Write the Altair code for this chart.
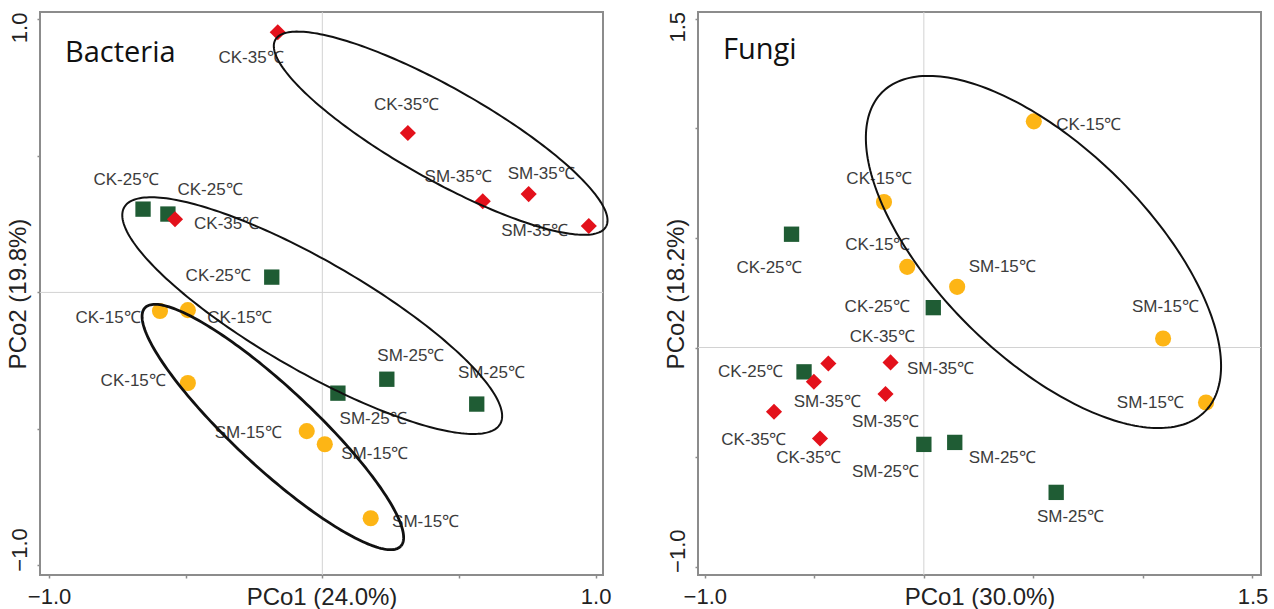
import altair as alt
import numpy as np
import pandas as pd

# ---------------- data ----------------
groups = ["15", "25", "35"]
grp_colors = ["#FDB515", "#1F5C34", "#E3111B"]
grp_shapes = ["circle", "square", "diamond"]
grp_sizes = [260, 235, 260]

# Bacteria (left panel)
bac_grp = ["35"] * 6 + ["25"] * 6 + ["15"] * 6
bac_x = [-0.163, 0.313, 0.587, 0.755, 0.975, -0.539,
         -0.656, -0.565, -0.185, 0.057, 0.236, 0.565,
         -0.594, -0.492, -0.492, -0.057, 0.009, 0.177]
bac_y = [0.953, 0.584, 0.334, 0.360, 0.243, 0.268,
         0.305, 0.287, 0.056, -0.369, -0.318, -0.409,
         -0.068, -0.065, -0.332, -0.508, -0.556, -0.827]
bac_text = ["CK-35℃", "CK-35℃", "SM-35℃", "SM-35℃", "SM-35℃", "CK-35℃",
            "CK-25℃", "CK-25℃", "CK-25℃", "SM-25℃", "SM-25℃", "SM-25℃",
            "CK-15℃", "CK-15℃", "CK-15℃", "SM-15℃", "SM-15℃", "SM-15℃"]
bac_lab_x = [-0.261, 0.308, 0.497, 0.801, 0.777, -0.350,
             -0.718, -0.411, -0.381, 0.186, 0.324, 0.619,
             -0.784, -0.302, -0.692, -0.271, 0.192, 0.378]
bac_lab_y = [0.858, 0.685, 0.422, 0.432, 0.225, 0.251,
             0.410, 0.374, 0.059, -0.463, -0.233, -0.295,
             -0.094, -0.093, -0.326, -0.514, -0.591, -0.841]
# ellipses: centre, semi-axes, angle (deg), line width
bac_ell_cx = [0.433, -0.037, -0.181]
bac_ell_cy = [0.583, -0.085, -0.493]
bac_ell_a = [0.695, 0.794, 0.640]
bac_ell_b = [0.168, 0.201, 0.146]
bac_ell_ang = [-29.5, -30.0, -43.0]
bac_ell_w = [2.0, 2.0, 2.8]

# Fungi (right panel)
fun_grp = ["35"] * 6 + ["25"] * 6 + ["15"] * 6
fun_x = [-0.436, -0.152, -0.502, -0.175, -0.684, -0.474,
         -0.604, 0.043, -0.547, 0.000, 0.141, 0.604,
         0.502, -0.182, -0.076, 0.152, 1.092, 1.288]
fun_y = [-0.073, -0.068, -0.156, -0.212, -0.293, -0.415,
         0.517, 0.182, -0.111, -0.442, -0.433, -0.661,
         1.032, 0.664, 0.368, 0.277, 0.041, -0.251]
fun_text = ["CK-35℃", "SM-35℃", "SM-35℃", "SM-35℃", "CK-35℃", "CK-35℃",
            "CK-25℃", "CK-25℃", "CK-25℃", "SM-25℃", "SM-25℃", "SM-25℃",
            "CK-15℃", "CK-15℃", "CK-15℃", "SM-15℃", "SM-15℃", "SM-15℃"]
fun_lab_x = [-0.190, 0.076, -0.441, -0.175, -0.776, -0.525,
             -0.707, -0.213, -0.791, -0.175, 0.358, 0.669,
             0.753, -0.205, -0.210, 0.358, 1.103, 1.034]
fun_lab_y = [0.049, -0.100, -0.248, -0.339, -0.422, -0.503,
             0.365, 0.186, -0.111, -0.567, -0.506, -0.772,
             1.017, 0.771, 0.467, 0.368, 0.186, -0.255]
fun_ell_cx = [0.546]
fun_ell_cy = [0.436]
fun_ell_a = [1.036]
fun_ell_b = [0.479]
fun_ell_ang = [-44.6]
fun_ell_w = [2.0]

W = 563
H = 563
FONT = "Liberation Sans"


def ellipse_frame(cx, cy, a, b, ang, w):
    rows = []
    t = np.linspace(0, 2 * np.pi, 241)
    for k in range(len(cx)):
        th = np.deg2rad(ang[k])
        ex = cx[k] + a[k] * np.cos(t) * np.cos(th) - b[k] * np.sin(t) * np.sin(th)
        ey = cy[k] + a[k] * np.cos(t) * np.sin(th) + b[k] * np.sin(t) * np.cos(th)
        for i in range(len(t)):
            rows.append({"x": ex[i], "y": ey[i], "e": k, "i": i, "w": w[k]})
    return pd.DataFrame(rows)


def panel(name, px, py, grp, text, lx, ly, ell, xdom, ydom, xticks, yticks, xtitle, ytitle, name_y):
    xlo, xhi = xticks[0], xticks[-1]
    ylo, yhi = yticks[0], yticks[-1]
    xscale = alt.Scale(domain=xdom, nice=False, zero=False)
    yscale = alt.Scale(domain=ydom, nice=False, zero=False)
    xaxis = alt.Axis(
        values=xticks,
        labelExpr=f"(datum.value == {xlo} || datum.value == {xhi}) ? format(datum.value, '.1f') : ''",
        labelFlush=True, labelFlushOffset=5, labelPadding=8,
        title=xtitle, titleY=10, titleBaseline="top",
    )
    yaxis = alt.Axis(
        values=yticks,
        labelExpr=f"(datum.value == {ylo} || datum.value == {yhi}) ? format(datum.value, '.1f') : ''",
        labelAngle=-90, labelAlign="center", labelBaseline="bottom", labelPadding=6,
        labelOffset={"condition": {"test": "datum.value > 0", "value": 8}, "value": -16},
        title=ytitle, titleX=-10, titleY=H / 2, titleAngle=-90,
        titleBaseline="bottom", titleAlign="center",
    )
    pts = pd.DataFrame({"x": px, "y": py, "g": grp})
    labs = pd.DataFrame({"x": lx, "y": ly, "t": text})
    zero = pd.DataFrame({"z": [0.0]})

    vline = alt.Chart(zero).mark_rule(color="#d2d2d2", strokeWidth=1).encode(
        x=alt.X("z:Q", scale=xscale, axis=xaxis))
    hline = alt.Chart(zero).mark_rule(color="#d2d2d2", strokeWidth=1).encode(
        y=alt.Y("z:Q", scale=yscale, axis=yaxis))
    point_layers = []
    for g, c, s, sz in zip(groups, grp_colors, grp_shapes, grp_sizes):
        point_layers.append(
            alt.Chart(pts).transform_filter(alt.datum.g == g).mark_point(
                filled=True, opacity=1, strokeWidth=0, color=c, shape=s, size=sz
            ).encode(
                x=alt.X("x:Q", scale=xscale, axis=xaxis),
                y=alt.Y("y:Q", scale=yscale, axis=yaxis),
            )
        )
    labels = alt.Chart(labs).mark_text(font=FONT, fontSize=17, color="#3c3c3c",
                                       align="center", baseline="middle").encode(
        x=alt.X("x:Q", scale=xscale, axis=xaxis),
        y=alt.Y("y:Q", scale=yscale, axis=yaxis),
        text="t:N",
    )
    ells = alt.Chart(ell).mark_line(color="#111111").encode(
        x=alt.X("x:Q", scale=xscale, axis=xaxis),
        y=alt.Y("y:Q", scale=yscale, axis=yaxis),
        detail="e:N",
        order="i:Q",
        strokeWidth=alt.StrokeWidth("w:Q", scale=None),
    )
    title = alt.Chart(pd.DataFrame({"t": [name]})).mark_text(
        font="Open Sans", fontSize=29, color="#111111", align="left", baseline="alphabetic"
    ).encode(x=alt.value(25), y=alt.value(name_y), text="t:N")
    return alt.layer(vline, hline, *point_layers, labels, ells, title).properties(width=W, height=H)


left = panel("Bacteria", bac_x, bac_y, bac_grp, bac_text, bac_lab_x, bac_lab_y,
             ellipse_frame(bac_ell_cx, bac_ell_cy, bac_ell_a, bac_ell_b, bac_ell_ang, bac_ell_w),
             [-1.033, 1.027], [-1.035, 1.027],
             [-1.0, -0.5, 0.0, 0.5, 1.0], [-1.0, -0.5, 0.0, 0.5, 1.0],
             "PCo1 (24.0%)", "PCo2 (19.8%)", 50)
right = panel("Fungi", fun_x, fun_y, fun_grp, fun_text, fun_lab_x, fun_lab_y,
              ellipse_frame(fun_ell_cx, fun_ell_cy, fun_ell_a, fun_ell_b, fun_ell_ang, fun_ell_w),
              [-1.031, 1.539], [-1.038, 1.531],
              [-1.0, -0.5, 0.0, 0.5, 1.0, 1.5], [-1.0, -0.5, 0.0, 0.5, 1.0, 1.5],
              "PCo1 (30.0%)", "PCo2 (18.2%)", 47)

chart = alt.hconcat(left, right, spacing=50).properties(
    padding={"left": 5, "top": 10, "right": 0, "bottom": 0},
    background="white",
).configure_view(
    stroke="#8c8c8c", strokeWidth=2
).configure_axis(
    grid=False, domain=False, tickColor="#8c8c8c", tickWidth=1.5, tickSize=3,
    labelColor="#222222", labelFont=FONT, labelFontSize=22,
    titleColor="#222222", titleFont=FONT, titleFontSize=24, titleFontWeight="normal",
)

chart.save("out.html", embed_options={"renderer": "svg", "actions": False})
